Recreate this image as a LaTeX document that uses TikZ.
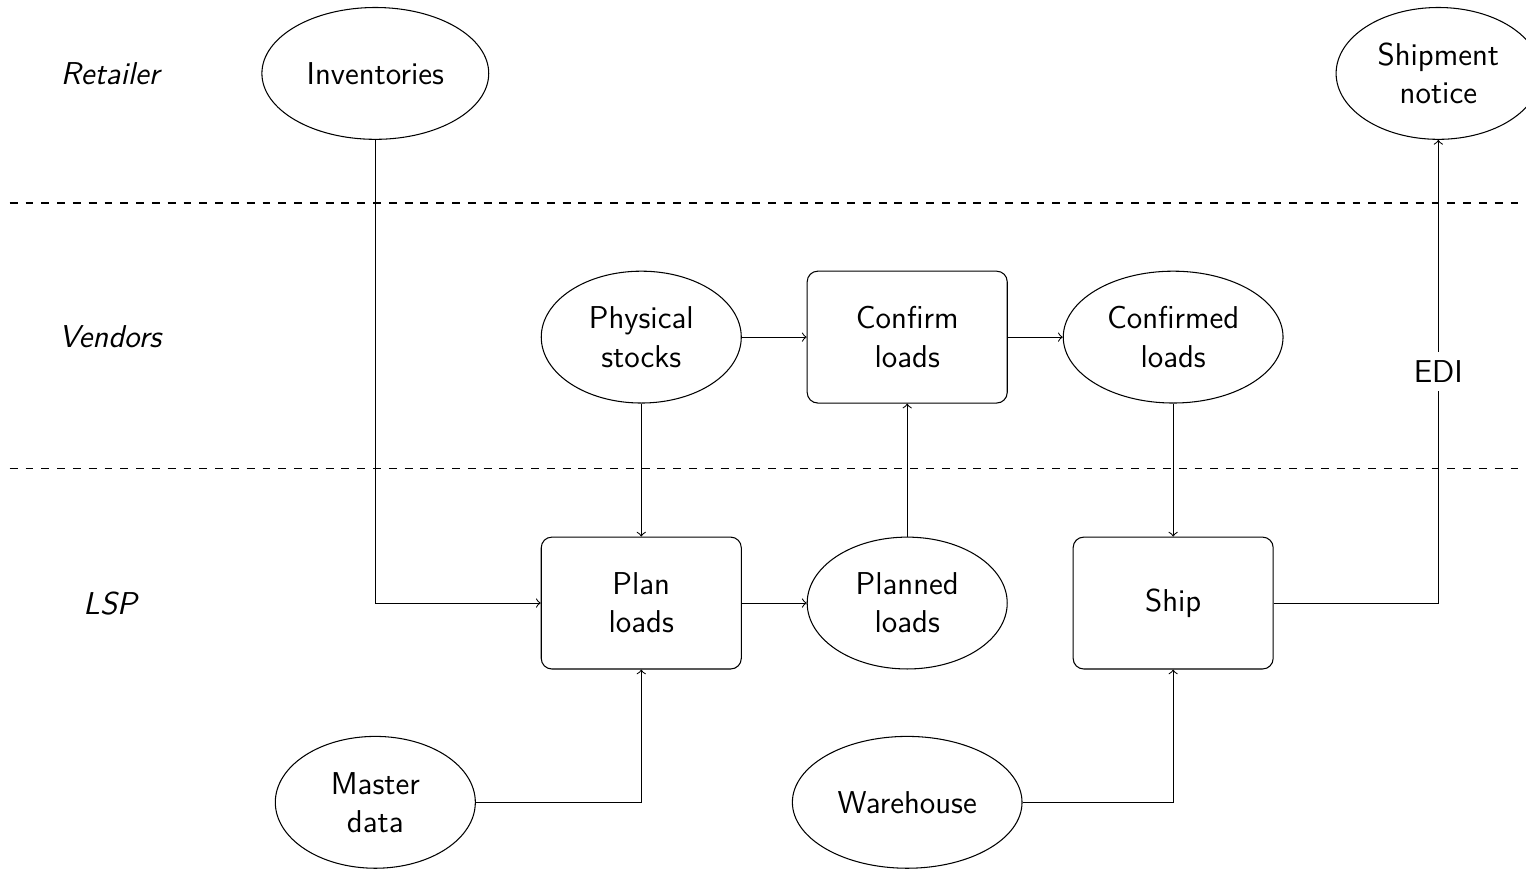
\documentclass[tikz,border=0pt]{standalone}
\usepackage{amsmath}
\usepackage{tikz}
\usetikzlibrary{shapes.geometric}

\tikzset{
  data/.style={draw, ellipse, align=center, inner sep=4.4pt, font=\fontsize{12}{14.5}\selectfont\sffamily, minimum width=2.67cm, minimum height=1.76cm},
  task/.style={draw, rectangle, rounded corners, align=center, font=\fontsize{12}{14.5}\selectfont\sffamily, minimum width=2.67cm, minimum height=1.76cm},
  lane/.style={font=\fontsize{12}{14.5}\selectfont\sffamily\itshape},
  divide/.style={dashed}
}

\begin{document}
\begin{tikzpicture}
\useasboundingbox (0,0) rectangle (20.37,11.63);
\coordinate (dl1) at (0.13,8.92);
\coordinate (dr1) at (20.37,8.92);
\coordinate (dl2) at (0.13,5.37);
\coordinate (dr2) at (20.37,5.37);
 \draw[divide] (dl1) -- (dr1);
 \draw[divide] (dl2) -- (dr2);
 \node[lane] (retailer) at (1.47,10.65) {Retailer};
 \node[lane] (vendors) at (1.47,7.13) {Vendors};
 \node[lane] (lsp) at (1.47,3.58) {LSP};
 \node[data] (inv) at (5.01,10.65) {Inventories};
 \node[data] (notice) at (19.20,10.65) {Shipment\\notice};
 \node[data] (phys) at (8.56,7.13) {Physical\\stocks};
 \node[task] (confirm) at (12.11,7.13) {Confirm\\loads};
 \node[data] (confirmed) at (15.66,7.13) {Confirmed\\loads};
 \node[task] (plan) at (8.56,3.58) {Plan\\loads};
 \node[data] (planned) at (12.11,3.58) {Planned\\loads};
 \node[task] (ship) at (15.66,3.58) {Ship};
 \node[data] (master) at (5.01,0.92) {Master\\data};
 \node[data] (warehouse) at (12.11,0.92) {Warehouse};
 \draw[->] (inv) |- (plan);
 \draw[->] (master) -| (plan);
 \draw[->] (phys) -- (plan);
 \draw[->] (phys) -- (confirm);
 \draw[->] (plan) -- (planned);
 \draw[->] (planned) -- (confirm);
 \draw[->] (confirm) -- (confirmed);
 \draw[->] (confirmed) -- (ship);
 \draw[->] (warehouse) -| (ship);
 \draw[->] (ship) -| node[pos=0.75, fill=white, font=\fontsize{12}{14.5}\selectfont\sffamily] (edi) {EDI} (notice);
\end{tikzpicture}
\end{document}
